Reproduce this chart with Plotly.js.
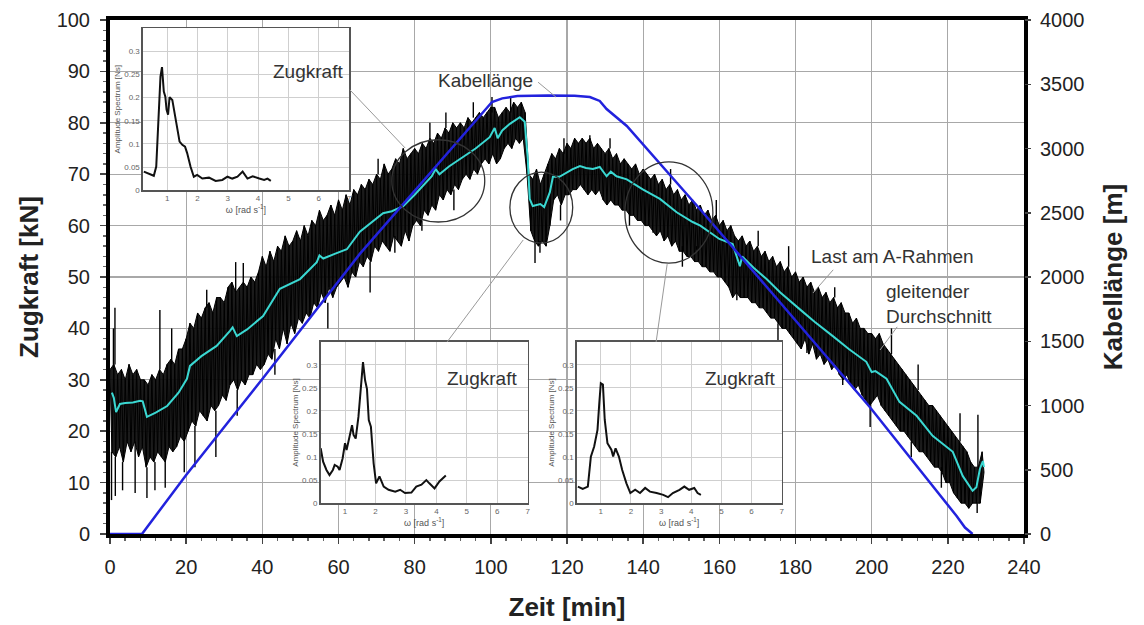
<!DOCTYPE html>
<html><head><meta charset="utf-8">
<script src="https://cdn.plot.ly/plotly-3.0.1.min.js"></script>
<style>html,body{margin:0;padding:0;background:#fff}#chart{width:1144px;height:625px}</style>
</head><body><div id="chart"></div>
<script>
// Last am A-Rahmen [kN]: upper / lower edge of the dense signal band per minute (t = 0..229 min)
const lastHoch = [32,33,31,32,30,33,31,32,30,30, 29,31,30,32,31,33,34,33,36,36,
 38,41,40,43,42,44,45,43,46,46, 45,48,49,47,48,49,48,50,49,51,
 54,52,55,53,56,55,58,56,57,59, 57,60,58,61,60,63,61,62,64,62,
 65,63,66,64,67,66,68,67,69,68, 70,69,72,70,71,73,72,75,73,74,
 75,74,76,75,77,76,78,77,79,78, 80,79,80,79,81,80,81,82,81,82,
 83,83,81,82,83,82,84,83,84,82, 70,69,71,68,70,72,74,73,75,74,
 76,75,77,76,77,76,77,75,76,75, 74,75,73,74,72,73,72,71,72,70,
 71,70,69,70,68,69,67,68,66,67, 65,66,64,65,63,64,62,63,61,62,
 60,61,59,60,58,57,58,56,57,55, 56,54,55,53,54,52,53,51,52,50,
 51,49,50,48,49,47,48,46,47,45, 46,44,45,43,43,41,42,40,40,39,
 39,38,39,37,36,35,34,33,32,31, 30,29,28,27,26,25,25,24,23,22,
 21,20,19,18,17,16,14,13,13,16];
const lastTief = [16,15,17,14,18,16,18,15,17,13, 15,14,16,15,14,17,16,17,19,18,
 20,22,21,24,23,22,25,24,25,27, 26,29,30,28,30,29,31,31,33,32,
 33,35,34,38,36,40,37,41,39,42, 41,43,42,45,44,47,45,48,46,48,
 49,50,48,51,50,53,52,54,53,56, 55,57,56,55,58,57,56,59,57,60,
 61,60,63,62,64,63,66,65,67,66, 68,67,69,70,69,71,70,72,73,72,
 74,72,73,75,76,75,77,76,77,70, 59,57,56,57,56,60,65,66,64,66,
 66,67,67,68,67,66,67,66,67,65, 64,65,64,64,63,63,62,62,61,61,
 60,60,59,58,59,57,58,56,57,55, 55,54,54,53,53,52,52,51,51,50,
 50,49,48,46,47,46,46,46,45,45, 44,44,43,42,42,41,40,40,39,38,
 37,36,38,35,37,34,35,33,34,32, 33,31,30,31,29,28,29,27,26,25,
 26,27,25,24,23,22,21,20,20,19, 18,17,16,16,15,14,13,13,12,10,
 10,8,7,6,6,5,6,6,6,12];
// single spikes of the load signal: time, band edge, tip
const spitzeZeit = [0.4,0.9,1.3,1.4,3.3,6.6,9.7,11.8,13.1,14.5,16.2,19.5,22.3,25.4,27.8,33.0,33.4,35.0,43.3,57.2,68.3,70.4,74.8,81.9,84.0,88.2,90.3,95.4,100.3,105.2,111.6,112.9,118.3,119.2,126.0,131.3,136.4,142.6,147.2,150.3,154.0,159.2,164.6,170.2,175.4,178.2,183.0,190.3,192.4,199.6,205.2,210.4,212.2,218.3,223.2,227.7,227.9];
const spitzeVon  = [16,32,33,15,14,18,13,14,32,14,33,18,21,44,24,47,28,49,36,45,53,70,58,61,77,79,67,81,82,82,57,57,64,74,76,75,63,59,68,56,56,61,47,56,41,52,37,46,33,26,35,18,28,13,18,6,13];
const spitzeBis  = [6.6,40,44,7.4,8.5,8,7,8.5,43.6,9,40,12,13,47.5,15,52.9,23,52.7,31,40,47,73,54.7,59,80,82,63,84,85,85,52.7,54.7,61,77,77.6,77,60,58.6,71,52,55.3,65,45.5,59,37,56,35.2,48,29,20.8,40,15,33,9,23.5,4.1,23.2];
// gleitender Durchschnitt
const mittelZeit = [0.5,1.0,1.6,2.6,4,6,7.9,8.6,9.7,12, 15,18,20.2,21,24,28,31.5,32.2,33.3,36,
 40.2,44.6,49.9,54.3,55,56,59,62.2,65.6,68, 71.7,74,77,80,84.5,85.5,86.5,89,92,96,
 99.7,101,101.8,103,105,107.6,108.9,109.7,110.2,111, 113,114,115.5,116.3,118,121.5,123.4,125,126.8,128.6,
 130.4,131.5,133,135.7,140,144.4,148.8,153,155,160, 163.5,165.4,166,169,172.4,176,181,185,189.8,194,
 198.6,200,201,203.9,207.3,211.8,216,221.3,223.9,226.5, 227.5,228.4,229.2,229.5];
const mittelKraft = [27.5,26.5,23.7,25.3,25.5,25.6,25.9,25.8,22.8,23.6, 24.9,27.5,30.2,32.7,34.6,36.6,39.5,40.2,38.5,39.8,
 42.4,47.7,49.6,52.9,54.2,53.6,54.5,55.4,58.8,60.2, 62.4,62.8,63.8,66,69.6,71,70,71.5,73,75,
 77.2,79,77,78.5,79.8,81.1,80.2,73,65.2,63.8, 64.2,63.6,66.5,69.5,69.5,71,71.6,71.2,71,71.4,
 69.6,70.5,69.6,69,67,65.2,62.6,60.7,60,57.4, 56.4,52.1,54,51.8,49.6,47,43.8,41.3,38.5,36,
 33.5,31.5,31.7,30.2,25.7,23,19.1,16,11.3,8.4, 9.1,12.6,14.2,13];
// Kabellänge [m]
const kabelZeit = [0,8.4,20,40,65.6,100.3,103,107,115,122,126,128.6,130.4,135.7,154.9,199.5,222.3,224.5,226.5];
const kabelLaenge = [0,0,460,1206,2180,3362,3390,3408,3412,3410,3400,3370,3307,3175,2529,988,140,50,0];
// Amplitude spectra (insets)
const spek1Omega = [0.23,0.39,0.56,0.64,0.72,0.78,0.83,0.89,0.94,0.98,1.03,1.08,1.17,1.22,1.33,1.41,1.50,1.59,1.66,1.77,1.88,1.99,2.16,2.38,2.60,2.82,2.99,3.15,3.32,3.49,3.65,3.82,4.04,4.20,4.31,4.42];
const spek1Amp = [0.040,0.035,0.031,0.051,0.174,0.246,0.266,0.213,0.202,0.174,0.163,0.201,0.195,0.174,0.137,0.105,0.098,0.094,0.080,0.051,0.029,0.033,0.025,0.027,0.020,0.022,0.029,0.025,0.029,0.040,0.025,0.030,0.025,0.022,0.025,0.020];
const spek2Omega = [0.2,0.28,0.39,0.49,0.60,0.66,0.76,0.82,0.92,1.0,1.05,1.14,1.23,1.28,1.35,1.44,1.52,1.59,1.66,1.72,1.78,1.85,1.94,2.02,2.13,2.27,2.43,2.65,2.81,2.97,3.18,3.34,3.51,3.67,3.77,3.94,4.10,4.31];
const spek2Amp = [0.119,0.090,0.072,0.061,0.072,0.083,0.079,0.072,0.097,0.130,0.115,0.144,0.169,0.148,0.140,0.187,0.252,0.306,0.266,0.248,0.180,0.166,0.086,0.043,0.058,0.036,0.029,0.025,0.029,0.022,0.023,0.036,0.040,0.050,0.043,0.032,0.047,0.060];
const spek3Omega = [0.24,0.40,0.57,0.67,0.78,0.89,0.95,1.0,1.07,1.13,1.22,1.35,1.41,1.49,1.60,1.71,1.85,1.98,2.14,2.30,2.47,2.63,2.85,3.07,3.23,3.39,3.61,3.77,3.93,4.10,4.21,4.32];
const spek3Amp = [0.036,0.031,0.036,0.101,0.123,0.159,0.217,0.260,0.257,0.181,0.130,0.116,0.101,0.119,0.101,0.072,0.043,0.022,0.029,0.022,0.033,0.025,0.022,0.018,0.013,0.022,0.029,0.036,0.029,0.033,0.022,0.018];
const spekTicks = [0,0.05,0.1,0.15,0.2,0.25,0.3];

// band edges and the zig-zag between them
const hochX = lastHoch.map((v, i) => i);
const tiefX = lastTief.map((v, i) => i + 0.5);
const zackX = [], zackY = [];
for (let i = 0; i < lastHoch.length; i++) {
  zackX.push(i, i + 0.5); zackY.push(lastHoch[i], lastTief[i]);
}
const spX = [], spY = [];
spitzeZeit.forEach((t, i) => { spX.push(t, t, null); spY.push(spitzeVon[i], spitzeBis[i], null); });

const FONT = 'Liberation Sans, Arial, sans-serif';
const traces = [
  {x: hochX, y: lastHoch, type: 'scatter', mode: 'lines', line: {color: '#000', width: 1}, xaxis: 'x', yaxis: 'y'},
  {x: tiefX, y: lastTief, type: 'scatter', mode: 'lines', line: {color: '#000', width: 1}, fill: 'tonexty', fillcolor: 'rgba(10,10,10,0.93)', xaxis: 'x', yaxis: 'y'},
  {x: zackX, y: zackY, type: 'scatter', mode: 'lines', line: {color: '#000', width: 1}, xaxis: 'x', yaxis: 'y'},
  {x: spX, y: spY, type: 'scatter', mode: 'lines', line: {color: '#000', width: 1.4}, xaxis: 'x', yaxis: 'y', connectgaps: false},
  {x: mittelZeit, y: mittelKraft, type: 'scatter', mode: 'lines', line: {color: '#3ad8d2', width: 2}, xaxis: 'x', yaxis: 'y', name: 'gleitender Durchschnitt'},
  {x: kabelZeit, y: kabelLaenge, type: 'scatter', mode: 'lines', line: {color: '#2222dd', width: 2.5}, xaxis: 'x', yaxis: 'y2', name: 'Kabellänge', cliponaxis: false},
  {x: spek1Omega, y: spek1Amp, type: 'scatter', mode: 'lines', line: {color: '#111', width: 2}, xaxis: 'x2', yaxis: 'y3'},
  {x: spek2Omega, y: spek2Amp, type: 'scatter', mode: 'lines', line: {color: '#111', width: 2}, xaxis: 'x3', yaxis: 'y4'},
  {x: spek3Omega, y: spek3Amp, type: 'scatter', mode: 'lines', line: {color: '#111', width: 2}, xaxis: 'x4', yaxis: 'y5'}
];

function insetX(domain, anchor) {
  return {domain: domain, anchor: anchor, range: [0.2, 7], tickvals: [1,2,3,4,5,6,7], showgrid: true, gridcolor: '#cfcfcf', gridwidth: 1,
    showline: true, mirror: true, linecolor: '#555', linewidth: 1.5, ticks: '', zeroline: false,
    tickfont: {size: 8, color: '#666', family: FONT},
    title: {text: 'ω [rad s<sup>-1</sup>]', font: {size: 9, color: '#555', family: FONT}, standoff: 2}};
}
function insetY(domain, anchor) {
  return {domain: domain, anchor: anchor, range: [0, 0.35], tickvals: spekTicks, showgrid: true, gridcolor: '#cfcfcf', gridwidth: 1,
    showline: true, mirror: true, linecolor: '#555', linewidth: 1.5, ticks: '', zeroline: false,
    tickfont: {size: 8, color: '#666', family: FONT},
    title: {text: 'Amplitude Spectrum [Ns]', font: {size: 8, color: '#555', family: FONT}, standoff: 2}};
}

const insetBg = (xr, yr) => ({type: 'rect', xref: xr, yref: yr, layer: 'below', x0: 0.2, x1: 7, y0: 0, y1: 0.35, fillcolor: '#fff', line: {width: 0}});
const circle = (x0, x1, y0, y1) => ({type: 'circle', xref: 'x', yref: 'y', x0: x0, x1: x1, y0: y0, y1: y1, line: {color: '#333', width: 1.3}, layer: 'above'});
const pointer = (x0, y0, x1, y1) => ({type: 'line', xref: 'x', yref: 'y', x0: x0, y0: y0, x1: x1, y1: y1, line: {color: '#999', width: 1}, layer: 'above'});

const layout = {
  width: 1144, height: 625,
  margin: {l: 110, r: 120, t: 20, b: 91},
  paper_bgcolor: '#fff', plot_bgcolor: '#fff',
  showlegend: false,
  font: {family: FONT, color: '#222'},
  xaxis: {range: [0, 240], dtick: 20, tick0: 0, ticks: 'outside', ticklen: 6, tickwidth: 1.5, tickcolor: '#444',
    showline: true, mirror: true, linecolor: '#000', linewidth: 4, zeroline: false,
    showgrid: true, gridcolor: '#a8a8a8', gridwidth: 1.3, ticklabelstandoff: 6,
    minor: {dtick: 4, ticks: 'outside', ticklen: 3, tickcolor: '#666', showgrid: false},
    tickfont: {size: 20, color: '#222'},
    title: {text: '<b>Zeit [min]</b>', font: {size: 26, color: '#222'}, standoff: 22}},
  yaxis: {range: [0, 100], dtick: 10, tick0: 0, ticks: 'outside', ticklen: 6, tickwidth: 1.5, tickcolor: '#444',
    showline: true, mirror: true, linecolor: '#000', linewidth: 4, zeroline: false,
    showgrid: true, gridcolor: '#a8a8a8', gridwidth: 1.3, ticklabelstandoff: 6,
    minor: {dtick: 2, ticks: 'outside', ticklen: 3, tickcolor: '#666', showgrid: false},
    tickfont: {size: 20, color: '#222'},
    title: {text: '<b>Zugkraft [kN]</b>', font: {size: 26, color: '#222'}, standoff: 12}},
  yaxis2: {overlaying: 'y', side: 'right', range: [0, 4000], dtick: 500, tick0: 0, ticks: 'outside', ticklen: 6, tickwidth: 1.5, tickcolor: '#444',
    showline: false, showgrid: false, zeroline: false, ticklabelstandoff: 5,
    tickfont: {size: 20, color: '#222'},
    title: {text: '<b>Kabellänge [m]</b>', font: {size: 26, color: '#222'}, standoff: 20}},
  xaxis2: insetX([0.036, 0.2615], 'y3'), yaxis3: insetY([0.669, 0.984], 'x2'),
  xaxis3: insetX([0.2305, 0.457], 'y4'), yaxis4: insetY([0.060, 0.374], 'x3'),
  xaxis4: insetX([0.5106, 0.7349], 'y5'), yaxis5: insetY([0.060, 0.374], 'x4'),
  shapes: [
    insetBg('x2', 'y3'), insetBg('x3', 'y4'), insetBg('x4', 'y5'),
    circle(74.0, 98.4, 60.7, 76.7), circle(105.0, 121.5, 56.6, 70.4), circle(135.2, 158.3, 52.7, 72.4),
    pointer(63.0, 86.4, 77.5, 75.1), pointer(108.5, 57.2, 88.5, 37.35), pointer(146.3, 52.5, 143.4, 37.35),
    pointer(112.4, 87.9, 117.1, 85.0), pointer(189.9, 51.4, 184.6, 46.9), pointer(206.7, 40.3, 202.2, 35.8)
  ],
  annotations: [
    {xref: 'x', yref: 'y', x: 98.7, y: 88.3, text: 'Kabellänge', showarrow: false, font: {size: 19, color: '#333'}},
    {xref: 'x', yref: 'y', x: 205.4, y: 53.9, text: 'Last am A-Rahmen', showarrow: false, font: {size: 19, color: '#333'}},
    {xref: 'x', yref: 'y', x: 203.2, y: 44.7, text: 'gleitender<br>Durchschnitt', showarrow: false, align: 'left', xanchor: 'left', font: {size: 19, color: '#333'}},
    {xref: 'x', yref: 'y', x: 51.9, y: 89.9, text: 'Zugkraft', showarrow: false, font: {size: 19, color: '#333'}},
    {xref: 'x', yref: 'y', x: 97.7, y: 30.35, text: 'Zugkraft', showarrow: false, font: {size: 19, color: '#333'}},
    {xref: 'x', yref: 'y', x: 165.3, y: 30.35, text: 'Zugkraft', showarrow: false, font: {size: 19, color: '#333'}}
  ]
};

Plotly.newPlot('chart', traces, layout, {displayModeBar: false, staticPlot: true});
</script>
</body></html>
